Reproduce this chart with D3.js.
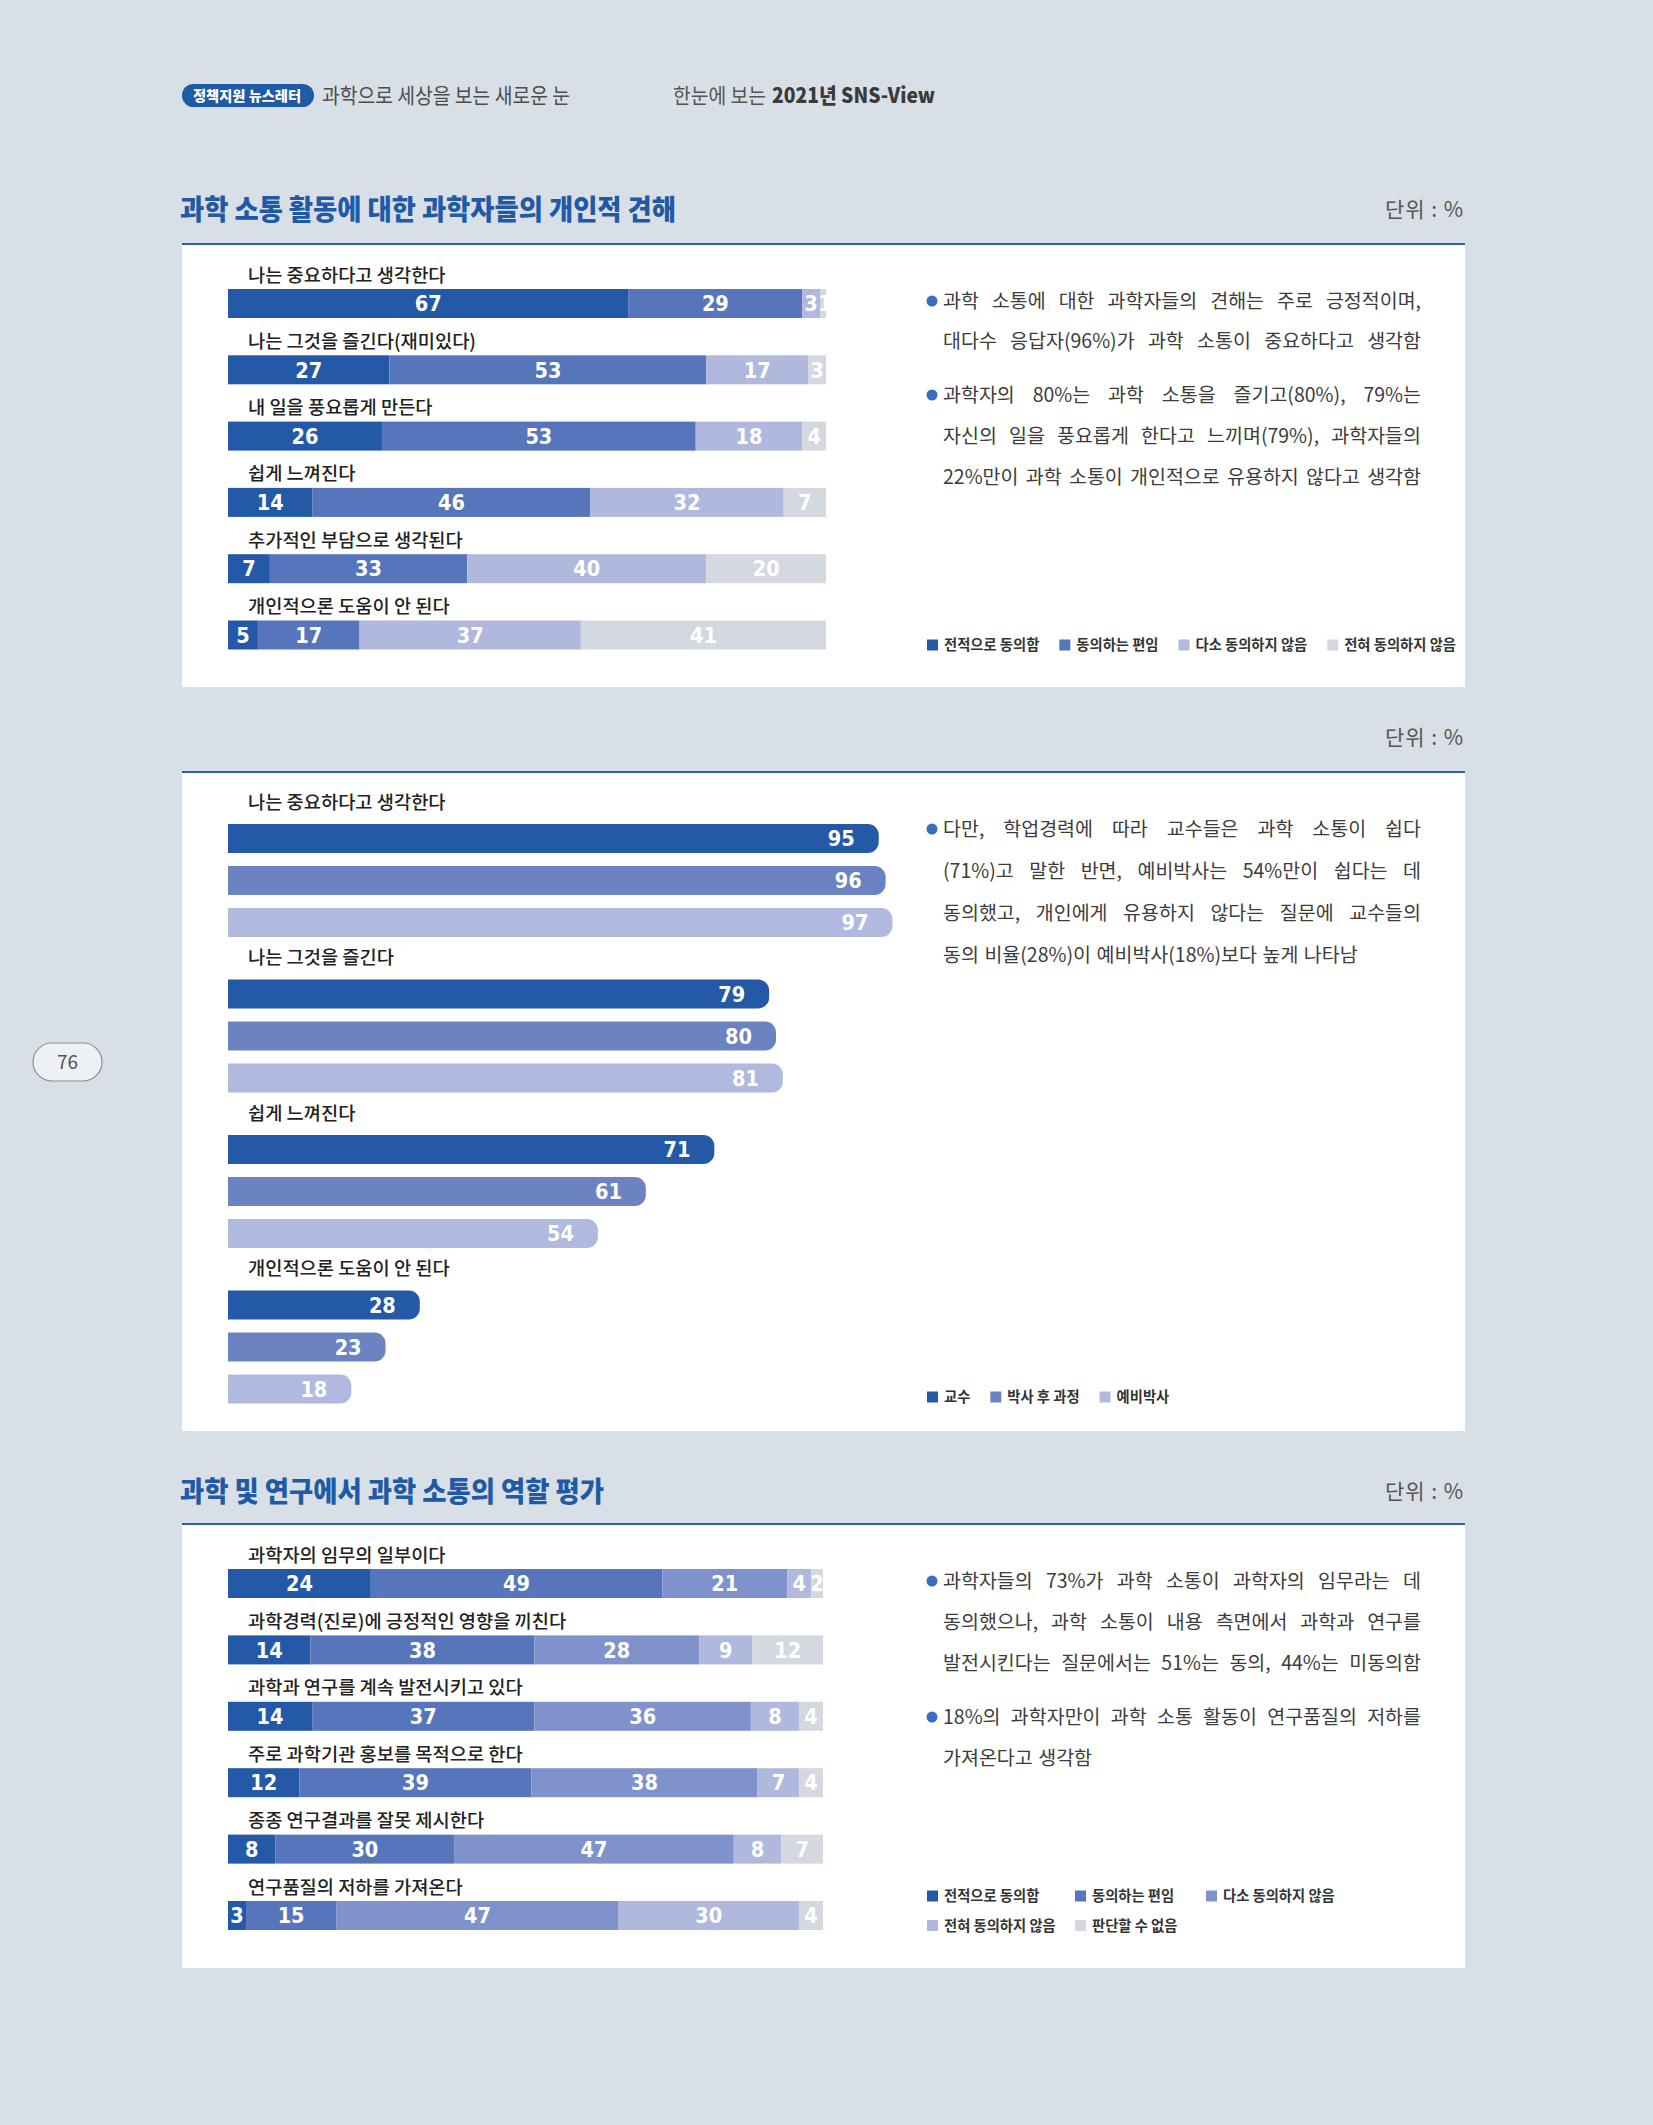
<!DOCTYPE html>
<html><head><meta charset="utf-8">
<script src="https://cdn.jsdelivr.net/npm/d3@7"></script>
<style>html,body{margin:0;padding:0;background:#d9dfe6}svg{display:block}</style>
</head><body><svg id="c"></svg>
<script>
// ---------- DATA ----------
const q1Categories = ["나는 중요하다고 생각한다","나는 그것을 즐긴다(재미있다)","내 일을 풍요롭게 만든다","쉽게 느껴진다","추가적인 부담으로 생각된다","개인적으론 도움이 안 된다"];
const q1Series = ["전적으로 동의함","동의하는 편임","다소 동의하지 않음","전혀 동의하지 않음"];
const q1Values = [[67,29,3,1],[27,53,17,3],[26,53,18,4],[14,46,32,7],[7,33,40,20],[5,17,37,41]];

const q2Categories = ["나는 중요하다고 생각한다","나는 그것을 즐긴다","쉽게 느껴진다","개인적으론 도움이 안 된다"];
const q2Series = ["교수","박사 후 과정","예비박사"];
const q2Values = [[95,96,97],[79,80,81],[71,61,54],[28,23,18]];

const q3Categories = ["과학자의 임무의 일부이다","과학경력(진로)에 긍정적인 영향을 끼친다","과학과 연구를 계속 발전시키고 있다","주로 과학기관 홍보를 목적으로 한다","종종 연구결과를 잘못 제시한다","연구품질의 저하를 가져온다"];
const q3Series = ["전적으로 동의함","동의하는 편임","다소 동의하지 않음","전혀 동의하지 않음","판단할 수 없음"];
const q3Values = [[24,49,21,4,2],[14,38,28,9,12],[14,37,36,8,4],[12,39,38,7,4],[8,30,47,8,7],[3,15,47,30,4]];

const text1 = [
  ["과학 소통에 대한 과학자들의 견해는 주로 긍정적이며,", "대다수 응답자(96%)가 과학 소통이 중요하다고 생각함"],
  ["과학자의 80%는 과학 소통을 즐기고(80%), 79%는", "자신의 일을 풍요롭게 한다고 느끼며(79%), 과학자들의", "22%만이 과학 소통이 개인적으로 유용하지 않다고 생각함"]
];
const text2 = [
  ["다만, 학업경력에 따라 교수들은 과학 소통이 쉽다", "(71%)고 말한 반면, 예비박사는 54%만이 쉽다는 데", "동의했고, 개인에게 유용하지 않다는 질문에 교수들의", "동의 비율(28%)이 예비박사(18%)보다 높게 나타남"]
];
const text3 = [
  ["과학자들의 73%가 과학 소통이 과학자의 임무라는 데", "동의했으나, 과학 소통이 내용 측면에서 과학과 연구를", "발전시킨다는 질문에서는 51%는 동의, 44%는 미동의함"],
  ["18%의 과학자만이 과학 소통 활동이 연구품질의 저하를", "가져온다고 생각함"]
];

// ---------- STYLE ----------
const C1 = ["#2459a8","#5775bb","#b1b8de","#d3d8e1"];
const C2 = ["#2459a8","#6b84c1","#b1b9df"];
const C3 = ["#2459a8","#5775bb","#7f92cb","#b1b8de","#d3d8e1"];
const KR = "'Noto Sans CJK KR','Noto Sans',sans-serif";
const NUM = "'DejaVu Sans Condensed','Liberation Sans Narrow',Roboto,sans-serif";
const BLUE = "#1f5aa6";

const W = 1653, H = 2125;
const svg = d3.select("#c").attr("width", W).attr("height", H);
svg.append("rect").attr("width", W).attr("height", H).attr("fill", "#d9dfe6");

// ---------- HEADER ----------
svg.append("rect").attr("x",182).attr("y",84).attr("width",132).attr("height",23).attr("rx",11.5).attr("fill",BLUE);
svg.append("text").attr("x",247).attr("y",96).attr("dy","0.35em").attr("text-anchor","middle")
  .attr("font-family",KR).attr("font-weight",900).attr("font-size",14).attr("fill","#fff")
  .attr("textLength",108).attr("lengthAdjust","spacingAndGlyphs").text("정책지원 뉴스레터");
svg.append("text").attr("x",322).attr("y",96).attr("dy","0.35em")
  .attr("font-family",KR).attr("font-size",21).attr("fill","#4d4d4d")
  .attr("textLength",248).attr("lengthAdjust","spacingAndGlyphs").text("과학으로 세상을 보는 새로운 눈");
svg.append("text").attr("x",673).attr("y",96).attr("dy","0.35em")
  .attr("font-family",KR).attr("font-size",21).attr("fill","#555")
  .attr("textLength",93).attr("lengthAdjust","spacingAndGlyphs").text("한눈에 보는");
svg.append("text").attr("x",772).attr("y",96).attr("dy","0.35em")
  .attr("font-family",KR).attr("font-weight",900).attr("font-size",21).attr("fill","#3a3a3a")
  .attr("textLength",163).attr("lengthAdjust","spacingAndGlyphs").text("2021년 SNS-View");

// page number
svg.append("rect").attr("x",33).attr("y",1043).attr("width",69).attr("height",38).attr("rx",19)
  .attr("fill","#eef1f4").attr("stroke","#8a8f96").attr("stroke-width",1.2);
svg.append("text").attr("x",67.5).attr("y",1062).attr("dy","0.35em").attr("text-anchor","middle")
  .attr("font-family",KR).attr("font-size",19).attr("fill","#555").text("76");

// ---------- HELPERS ----------
function sectionHead(title, titleLen, yTitle, yLine, yBottom){
  if (title) svg.append("text").attr("x",180).attr("y",yTitle).attr("dy","0.35em")
    .attr("font-family",KR).attr("font-weight",900).attr("font-size",28).attr("fill",BLUE)
    .attr("textLength",titleLen).attr("lengthAdjust","spacingAndGlyphs").text(title);
  svg.append("text").attr("x",1463).attr("y",yTitle).attr("dy","0.35em").attr("text-anchor","end")
    .attr("font-family",KR).attr("font-size",21).attr("fill","#555")
    .attr("textLength",78).attr("lengthAdjust","spacing").text("단위 : %");
  svg.append("rect").attr("x",182).attr("y",yLine).attr("width",1283).attr("height",yBottom-yLine).attr("fill","#fff");
  svg.append("line").attr("x1",182).attr("x2",1465).attr("y1",yLine).attr("y2",yLine)
    .attr("stroke","#2f5fa8").attr("stroke-width",2);
}

function paragraphs(paras, lineYs, justify){
  const g = svg.append("g");
  let k = 0;
  paras.forEach((lines) => {
    lines.forEach((line, li) => {
      const y = lineYs[k], just = justify[k]; k++;
      if (li === 0) g.append("circle").attr("cx",932).attr("cy",y).attr("r",5.5).attr("fill","#3b6cbf");
      const x0 = 943, x1 = 1421;
      const t = g.append("text").attr("y",y).attr("dy","0.35em")
        .attr("font-family",KR).attr("font-size",19.5).attr("fill","#3c3c3c");
      const words = line.split(" ");
      const spans = words.map(w => t.append("tspan").text(w));
      const lens = spans.map(s => s.node().getComputedTextLength());
      const total = d3.sum(lens);
      let gap = just ? (x1 - x0 - total) / (words.length - 1) : 5.5;
      if (gap < 3) {
        spans.forEach(s => s.remove());
        t.attr("x", x0).text(line).attr("textLength", x1 - x0).attr("lengthAdjust","spacingAndGlyphs");
        return;
      }
      let x = x0;
      spans.forEach((s, i) => { s.attr("x", x); x += lens[i] + gap; });
    });
  });
}

function flowLegend(series, colors, x0, y){
  const g = svg.append("g");
  let x = x0;
  series.forEach((s, i) => {
    g.append("rect").attr("x",x).attr("y",y-5.5).attr("width",11).attr("height",11).attr("fill",colors[i]);
    const t = g.append("text").attr("x",x+17).attr("y",y).attr("dy","0.35em")
      .attr("font-family",KR).attr("font-weight",700).attr("font-size",14.3).attr("fill","#333").text(s);
    x += 17 + t.node().getComputedTextLength() + 20;
  });
}

function stackedChart(cats, values, colors, x0, x1, yTop, step, barH){
  const keys = d3.range(values[0].length);
  const rows = values.map((v, i) => { const o = {cat: cats[i]}; keys.forEach(k => o[k] = v[k]); return o; });
  const stack = d3.stack().keys(keys).offset(d3.stackOffsetExpand)(rows);
  const x = d3.scaleLinear().domain([0,1]).range([x0, x1]);
  const y = d3.scaleBand().domain(cats).range([yTop, yTop + step * cats.length]).paddingInner(0).paddingOuter(0);
  const g = svg.append("g");
  g.selectAll("text.lab").data(cats).join("text").attr("class","lab")
    .attr("x", 248).attr("y", d => y(d) - 14).attr("dy","0.35em")
    .attr("font-family",KR).attr("font-size",18.7).attr("font-weight",500).attr("fill","#222").text(d => d);
  stack.forEach((layer, li) => {
    const lg = g.append("g");
    lg.selectAll("rect").data(layer).join("rect")
      .attr("x", d => x(d[0])).attr("width", d => x(d[1]) - x(d[0]))
      .attr("y", d => y(d.data.cat)).attr("height", barH).attr("fill", colors[li]);
    lg.selectAll("text").data(layer).join("text")
      .attr("x", d => (x(d[0]) + x(d[1])) / 2 + ((x(d[1]) - x(d[0])) < 10 ? 2 : 0))
      .attr("y", d => y(d.data.cat) + barH / 2).attr("dy","0.36em")
      .attr("text-anchor","middle").attr("font-family",NUM).attr("font-weight",700).attr("font-size",21.5)
      .attr("fill","#fff").text(d => d.data[li]);
  });
}

// ---------- SECTION 1 ----------
sectionHead("과학 소통 활동에 대한 과학자들의 개인적 견해", 496, 210, 244, 687);
stackedChart(q1Categories, q1Values, C1, 228, 826, 289, 66.3, 29);
paragraphs(text1, [301, 341, 395, 436, 477], [true, true, true, true, true]);
flowLegend(q1Series, C1, 927, 645);

// ---------- SECTION 2 ----------
sectionHead(null, 0, 738, 772, 1431);
(function(){
  const yG = d3.scaleBand().domain(q2Categories).range([824, 824 + 155.5 * 4]);
  const yS = d3.scaleBand().domain(d3.range(3)).range([0, 42 * 3]);
  const x = d3.scaleLinear().domain([0, 100]).range([228, 913]);
  const barH = 29, r = 11;
  const g = svg.append("g");
  g.selectAll("text.lab").data(q2Categories).join("text").attr("class","lab")
    .attr("x",248).attr("y", d => yG(d) - 22).attr("dy","0.35em")
    .attr("font-family",KR).attr("font-size",18.7).attr("font-weight",500).attr("fill","#222").text(d => d);
  const rows = q2Values.flatMap((vals, i) => vals.map((v, j) => ({cat: q2Categories[i], s: j, v})));
  const path = (x0, y0, w, h) => `M${x0},${y0}H${x0+w-r}A${r},${r} 0 0 1 ${x0+w},${y0+r}V${y0+h-r}A${r},${r} 0 0 1 ${x0+w-r},${y0+h}H${x0}Z`;
  g.selectAll("path.bar").data(rows).join("path").attr("class","bar")
    .attr("d", d => path(x(0), yG(d.cat) + yS(d.s), x(d.v) - x(0), barH))
    .attr("fill", d => C2[d.s]);
  g.selectAll("text.val").data(rows).join("text").attr("class","val")
    .attr("x", d => x(d.v) - 24).attr("y", d => yG(d.cat) + yS(d.s) + barH / 2).attr("dy","0.36em")
    .attr("text-anchor","end").attr("font-family",NUM).attr("font-weight",700).attr("font-size",21.5)
    .attr("fill","#fff").text(d => d.v);
})();
paragraphs(text2, [829, 871, 913, 955], [true, true, true, false]);
flowLegend(q2Series, C2, 927, 1397);

// ---------- SECTION 3 ----------
sectionHead("과학 및 연구에서 과학 소통의 역할 평가", 424, 1492, 1524, 1968);
stackedChart(q3Categories, q3Values, C3, 228, 823, 1569, 66.4, 29);
paragraphs(text3, [1581, 1622, 1663, 1717, 1758], [true, true, true, true, false]);
(function(){
  const cols = [927, 1075, 1206];
  const g = svg.append("g");
  q3Series.forEach((s, i) => {
    const cx = cols[i % 3], cy = 1896 + Math.floor(i / 3) * 29.5;
    g.append("rect").attr("x",cx).attr("y",cy-5.5).attr("width",11).attr("height",11).attr("fill",C3[i]);
    g.append("text").attr("x",cx+17).attr("y",cy).attr("dy","0.35em")
      .attr("font-family",KR).attr("font-weight",700).attr("font-size",14.3).attr("fill","#333").text(s);
  });
})();
</script></body></html>
